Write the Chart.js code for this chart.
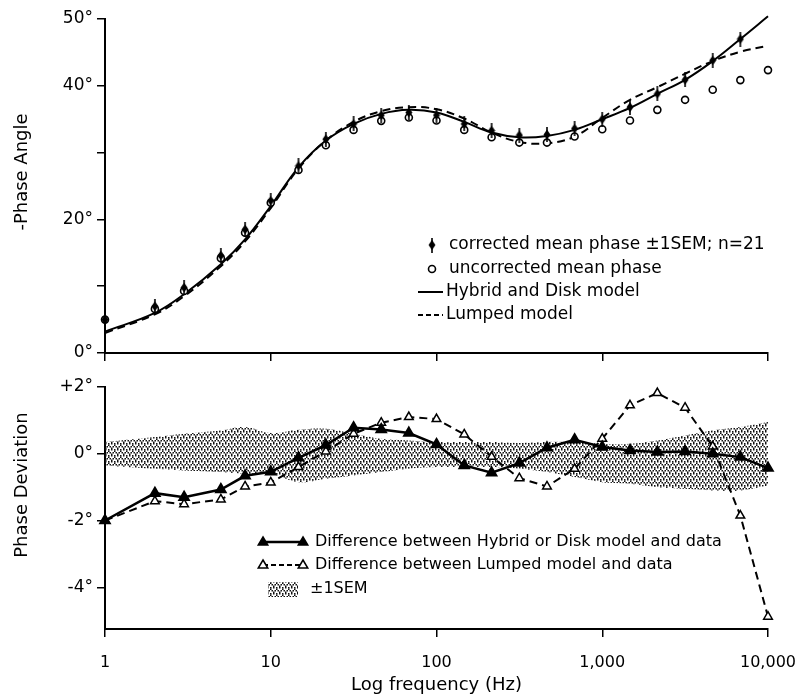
<!DOCTYPE html>
<html>
<head>
<meta charset="utf-8">
<script src="https://cdn.jsdelivr.net/npm/chart.js@4.4.1/dist/chart.umd.min.js"></script>
<style>
    html, body { margin: 0; padding: 0; background: #fff; }
    #wrap { position: relative; width: 796px; height: 697px; }
    .box { position: absolute; left: 0; width: 796px; }
    #topBox { top: 0; height: 365px; }
    #botBox { top: 365px; height: 332px; }
</style>
</head>
<body>
<div id="wrap">
    <div class="box" id="topBox"><canvas id="phaseAngle"></canvas></div>
    <div class="box" id="botBox"><canvas id="phaseDev"></canvas></div>
</div>
<script>
/* values */
const freqs = [1, 2, 3, 5, 7, 10, 14.7, 21.5, 31.6, 46.4, 68.1, 100, 147, 215, 316, 464, 681, 1000, 1470, 2150, 3160, 4640, 6810, 10000];

// top panel, -phase angle in degrees
const correctedPhase = [5.0, 7.0, 9.8, 14.6, 18.5, 22.8, 28.0, 32.0, 34.3, 35.6, 36.0, 35.6, 34.3, 33.3, 32.6, 32.7, 33.6, 35.0, 36.8, 38.8, 40.9, 43.8, 47.0, 51.2];
const uncorrectedPhase = [5.0, 6.6, 9.3, 14.2, 18.0, 22.5, 27.4, 31.1, 33.4, 34.75, 35.25, 34.8, 33.4, 32.3, 31.5, 31.5, 32.4, 33.5, 34.8, 36.4, 37.9, 39.4, 40.85, 42.35];
const hybridModel = [3.2, 6.0, 8.8, 13.3, 17.0, 22.0, 27.8, 31.8, 34.3, 35.8, 36.4, 36.0, 34.6, 33.0, 32.3, 32.5, 33.4, 35.0, 36.7, 38.8, 40.9, 43.7, 47.0, 50.4];
const lumpedModel = [3.0, 5.8, 8.5, 13.0, 16.7, 21.7, 27.6, 31.8, 34.6, 36.2, 36.8, 36.5, 35.1, 33.0, 31.6, 31.4, 32.4, 35.2, 37.9, 39.8, 41.8, 43.7, 45.1, 46.0];

// bottom panel, deviation in degrees
const diffHybrid = [-2.0, -1.18, -1.3, -1.07, -0.66, -0.54, -0.12, 0.26, 0.78, 0.73, 0.62, 0.28, -0.35, -0.57, -0.28, 0.18, 0.42, 0.2, 0.1, 0.05, 0.07, 0.0, -0.1, -0.43];
const diffLumped = [-2.0, -1.42, -1.51, -1.37, -0.98, -0.86, -0.4, 0.07, 0.6, 0.93, 1.1, 1.04, 0.58, -0.09, -0.73, -0.98, -0.45, 0.45, 1.45, 1.82, 1.38, 0.22, -1.85, -4.88];
const semUpper = [0.35, 0.5, 0.6, 0.7, 0.8, 0.62, 0.72, 0.75, 0.6, 0.45, 0.4, 0.35, 0.35, 0.35, 0.32, 0.35, 0.35, 0.3, 0.3, 0.4, 0.55, 0.7, 0.8, 0.95];
const semLower = [-0.35, -0.45, -0.5, -0.55, -0.6, -0.6, -0.85, -0.75, -0.65, -0.55, -0.45, -0.4, -0.4, -0.4, -0.45, -0.55, -0.7, -0.85, -0.9, -1.0, -1.05, -1.1, -1.1, -0.95];

// ticks
const decadeTicks = [1, 10, 100, 1000, 10000];
const decadeLabels = ["1", "10", "100", "1,000", "10,000"];
const angleTicks = [0, 10, 20, 30, 40, 50];
const angleLabels = ["0°", "", "20°", "", "40°", "50°"];
const deviationTicks = [-4, -2, 0, 2];
const deviationLabels = ["-4°", "-2°", "0°", "+2°"];

const topLegend = ["corrected mean phase ±1SEM; n=21", "uncorrected mean phase", "Hybrid and Disk model", "Lumped model"];
const bottomLegend = ["Difference between Hybrid or Disk model and data", "Difference between Lumped model and data", "±1SEM"];

Chart.defaults.font.family = '"DejaVu Sans", sans-serif';
Chart.defaults.font.size = 16;
Chart.defaults.color = "#000";
Chart.defaults.animation = false;

const pts = (ys) => ys.map((y, i) => ({ x: freqs[i], y: y }));

// small tall diamond with its error bar
function makeDiamond() {
    const c = document.createElement("canvas");
    c.width = 8;
    c.height = 15;
    const g = c.getContext("2d");
    g.fillStyle = "#000";
    g.fillRect(3.2, 0, 1.6, 15);
    g.beginPath();
    g.moveTo(4, 2.5);
    g.lineTo(7.5, 7.5);
    g.lineTo(4, 12.5);
    g.lineTo(0.5, 7.5);
    g.closePath();
    g.fill();
    return c;
}
const diamond = makeDiamond();

function makeStipple(ctx) {
    const c = document.createElement("canvas");
    c.width = 6;
    c.height = 6;
    const g = c.getContext("2d");
    g.fillStyle = "#111";
    [[0, 0], [3, 0], [1.5, 3], [4.5, 3], [0, 1.5], [3, 4.5]].forEach(([x, y]) => g.fillRect(x, y, 1.5, 1.5));
    return ctx.createPattern(c, "repeat");
}

function logX(opts) {
    return Object.assign({
        type: "logarithmic",
        min: 1,
        max: 10000,
        afterBuildTicks: (s) => { s.ticks = decadeTicks.map(v => ({ value: v })); },
        border: { display: true, color: "#000", width: 2 },
        grid: { display: true, drawOnChartArea: false, drawTicks: true, tickLength: 8, color: "#000", lineWidth: 1.5 },
    }, opts);
}

function yAxis(min, max, tickVals, tickText) {
    return {
        type: "linear",
        min: min,
        max: max,
        afterBuildTicks: (s) => { s.ticks = tickVals.map(v => ({ value: v })); },
        afterFit: (s) => { s.width = 105; s.paddingTop = 0; s.paddingBottom = 0; },
        border: { display: true, color: "#000", width: 2 },
        grid: { display: true, drawOnChartArea: false, drawTicks: true, tickLength: 8, color: "#000", lineWidth: 1.5 },
        ticks: {
            padding: 4,
            font: { size: 17 },
            callback: (v) => { const i = tickVals.indexOf(v); return i < 0 ? "" : tickText[i]; },
        },
    };
}

function rotatedTitle(ctx, text, x, y) {
    ctx.save();
    ctx.translate(x, y);
    ctx.rotate(-Math.PI / 2);
    ctx.textAlign = "center";
    ctx.textBaseline = "middle";
    ctx.font = '18px "DejaVu Sans"';
    ctx.fillStyle = "#000";
    ctx.fillText(text, 0, 0);
    ctx.restore();
}

function drawTriangle(ctx, x, y, filled) {
    const r = 5;
    ctx.beginPath();
    ctx.moveTo(x, y - r);
    ctx.lineTo(x + r * 0.95, y + r * 0.6);
    ctx.lineTo(x - r * 0.95, y + r * 0.6);
    ctx.closePath();
    ctx.fillStyle = filled ? "#000" : "#fff";
    ctx.fill();
    ctx.lineWidth = 1.5;
    ctx.strokeStyle = "#000";
    ctx.stroke();
}

/* overlay: y titles and legends */
const angleOverlay = {
    id: "angleOverlay",
    afterDraw(chart) {
        const ctx = chart.ctx;
        rotatedTitle(ctx, "-Phase Angle", 22, 172);
        ctx.save();
        ctx.font = '17px "DejaVu Sans"';
        ctx.textBaseline = "middle";
        ctx.fillStyle = "#000";
        ctx.strokeStyle = "#000";
        const rows = [245, 269, 292, 315];
        ctx.drawImage(diamond, 432 - diamond.width / 2, rows[0] - diamond.height / 2);
        ctx.beginPath();
        ctx.arc(432, rows[1], 3.5, 0, Math.PI * 2);
        ctx.lineWidth = 1.6;
        ctx.stroke();
        ctx.lineWidth = 2;
        ctx.beginPath();
        ctx.moveTo(418, rows[2]);
        ctx.lineTo(443, rows[2]);
        ctx.stroke();
        ctx.setLineDash([5, 3]);
        ctx.beginPath();
        ctx.moveTo(418, rows[3]);
        ctx.lineTo(443, rows[3]);
        ctx.stroke();
        ctx.setLineDash([]);
        topLegend.forEach((t, i) => ctx.fillText(t, i < 2 ? 449 : 446, rows[i]));
        ctx.restore();
    },
};

const devOverlay = {
    id: "devOverlay",
    afterDraw(chart) {
        const ctx = chart.ctx;
        const off = 365;
        rotatedTitle(ctx, "Phase Deviation", 22, 485 - off);
        ctx.save();
        ctx.font = '16px "DejaVu Sans"';
        ctx.textBaseline = "middle";
        ctx.fillStyle = "#000";
        ctx.strokeStyle = "#000";
        const rows = [542 - off, 565 - off, 589 - off];
        ctx.lineWidth = 2.5;
        ctx.beginPath();
        ctx.moveTo(263, rows[0]);
        ctx.lineTo(303, rows[0]);
        ctx.stroke();
        drawTriangle(ctx, 263, rows[0], true);
        drawTriangle(ctx, 303, rows[0], true);
        ctx.lineWidth = 2;
        ctx.setLineDash([5, 3]);
        ctx.beginPath();
        ctx.moveTo(263, rows[1]);
        ctx.lineTo(303, rows[1]);
        ctx.stroke();
        ctx.setLineDash([]);
        drawTriangle(ctx, 263, rows[1], false);
        drawTriangle(ctx, 303, rows[1], false);
        ctx.fillStyle = chart.$stipple;
        ctx.fillRect(268, rows[2] - 7, 30, 15);
        ctx.fillStyle = "#000";
        ctx.fillText(bottomLegend[0], 315, rows[0]);
        ctx.fillText(bottomLegend[1], 315, rows[1]);
        ctx.fillText(bottomLegend[2], 310, rows[2]);
        ctx.restore();
    },
};

/* TOP: -Phase Angle */
new Chart(document.getElementById("phaseAngle"), {
    type: "line",
    data: {
        datasets: [
            {
                label: "corrected mean phase",
                data: pts(correctedPhase),
                showLine: false,
                pointStyle: diamond,
                pointRadius: 5,
                clip: false,
                order: 1,
            },
            {
                label: "uncorrected mean phase",
                data: pts(uncorrectedPhase),
                showLine: false,
                pointStyle: "circle",
                pointRadius: 3.5,
                pointBorderWidth: 1.6,
                pointBorderColor: "#000",
                pointBackgroundColor: "#fff",
                clip: false,
                order: 2,
            },
            {
                label: "Hybrid and Disk model",
                data: pts(hybridModel),
                borderColor: "#000",
                borderWidth: 2,
                pointRadius: 0,
                tension: 0.4,
                clip: false,
                order: 3,
            },
            {
                label: "Lumped model",
                data: pts(lumpedModel),
                borderColor: "#000",
                borderWidth: 2,
                borderDash: [8, 5],
                pointRadius: 0,
                tension: 0.4,
                clip: false,
                order: 4,
            },
        ],
    },
    options: {
        responsive: true,
        maintainAspectRatio: false,
        layout: { padding: { top: 19, right: 28, left: 0, bottom: 0 } },
        plugins: { legend: { display: false }, tooltip: { enabled: false } },
        scales: {
            x: logX({
                ticks: { display: false },
                afterFit: (s) => { s.height = 12; s.paddingLeft = 0; s.paddingRight = 0; },
            }),
            y: yAxis(0, 50, angleTicks, angleLabels),
        },
    },
    plugins: [angleOverlay],
});

/* BOTTOM: Phase Deviation */
const devCanvas = document.getElementById("phaseDev");
const stipple = makeStipple(devCanvas.getContext("2d"));

const devChart = new Chart(devCanvas, {
    type: "line",
    data: {
        datasets: [
            {
                label: "Difference between Hybrid or Disk model and data",
                data: pts(diffHybrid),
                borderColor: "#000",
                borderWidth: 2.5,
                pointStyle: "triangle",
                pointRadius: 5,
                pointBackgroundColor: "#000",
                pointBorderColor: "#000",
                tension: 0,
                clip: false,
                order: 1,
            },
            {
                label: "Difference between Lumped model and data",
                data: pts(diffLumped),
                borderColor: "#000",
                borderWidth: 2,
                borderDash: [8, 5],
                pointStyle: "triangle",
                pointRadius: 5,
                pointBorderWidth: 1.5,
                pointBackgroundColor: "#fff",
                pointBorderColor: "#000",
                tension: 0,
                clip: false,
                order: 2,
            },
            {
                label: "+1SEM",
                data: pts(semUpper),
                borderWidth: 0,
                pointRadius: 0,
                backgroundColor: stipple,
                fill: "+1",
                tension: 0.4,
                order: 5,
            },
            {
                label: "-1SEM",
                data: pts(semLower),
                borderWidth: 0,
                pointRadius: 0,
                fill: false,
                tension: 0.4,
                order: 6,
            },
        ],
    },
    options: {
        responsive: true,
        maintainAspectRatio: false,
        layout: { padding: { top: 22, right: 28, left: 0, bottom: 0 } },
        plugins: { legend: { display: false }, tooltip: { enabled: false } },
        scales: {
            x: logX({
                afterFit: (s) => { s.height = 68; s.paddingLeft = 0; s.paddingRight = 0; },
                ticks: {
                    padding: 16,
                    autoSkip: false,
                    maxRotation: 0,
                    font: { size: 16 },
                    callback: (v) => { const i = decadeTicks.indexOf(v); return i < 0 ? "" : decadeLabels[i]; },
                },
                title: {
                    display: true,
                    text: "Log frequency (Hz)",
                    font: { size: 18 },
                    padding: { top: 0, bottom: 1 },
                },
            }),
            y: yAxis(-5.25, 2, deviationTicks, deviationLabels),
        },
    },
    plugins: [devOverlay],
});
devChart.$stipple = stipple;
devChart.draw();
</script>
</body>
</html>
